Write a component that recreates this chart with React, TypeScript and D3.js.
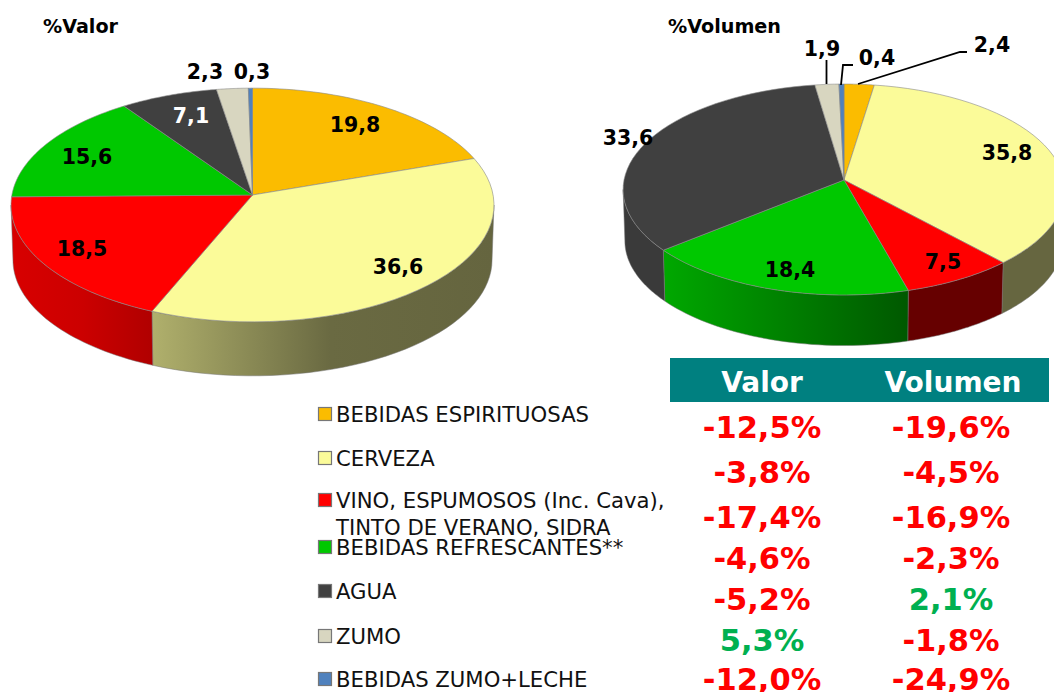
import React from "react";
import * as d3 from "d3";

const categories = ["BEBIDAS ESPIRITUOSAS","CERVEZA","VINO, ESPUMOSOS (Inc. Cava),","BEBIDAS REFRESCANTES**","AGUA","ZUMO","BEBIDAS ZUMO+LECHE"];
const valorShare = [19.8,36.6,18.5,15.6,7.1,2.3,0.3];
const volumenShare = [2.4,35.8,7.5,18.4,33.6,1.9,0.4];
const valorChange = ["-12,5%","-3,8%","-17,4%","-4,6%","-5,2%","5,3%","-12,0%"];
const volumenChange = ["-19,6%","-4,5%","-16,9%","-2,3%","2,1%","-1,8%","-24,9%"];
const fmt = (v:number)=>v.toFixed(1).replace(".",",");

const topColors = ["#fbbc00","#fbfb99","#ff0000","#00c800","#404040","#d8d6c0","#4f81bd"];
const FONT = "'DejaVu Sans', Verdana, sans-serif";

type Stop=[number,string];
type Cfg={id:string;cx:number;cy:number;R:number;ry:number;p:number;depth:number;shrink:number;
  values:number[];walls:(Stop[])[];labels:[number,number][];labelFill:string[]};

const flat=(c:string):Stop[]=>[[0,c],[1,c]];
const valorCfg:Cfg={id:"v",cx:252.5,cy:195,R:240.6,ry:116,p:0.0855,depth:55,shrink:0.992,values:valorShare,
  walls:[flat("#8a6a00"),[[0,"#b0b06c"],[0.52,"#6a6a42"],[1,"#65653f"]],[[0,"#d80000"],[0.5,"#cc0000"],[1,"#b00000"]],flat("#008000"),flat("#333"),flat("#888"),flat("#345")],
  labels:[[355,125],[398,267],[82,249],[87,157],[191,116],[205,72],[252,72]],
  labelFill:["#000","#000","#000","#000","#fff","#000","#000"]};
const volumenCfg:Cfg={id:"w",cx:844,cy:180,R:220,ry:104.6,p:0.09,depth:51.5,shrink:0.992,values:volumenShare,
  walls:[flat("#8a6a00"),flat("#666640"),flat("#660000"),[[0,"#00a800"],[1,"#005800"]],flat("#3a3a3a"),flat("#888"),flat("#345")],
  labels:[[992,45],[1007,153],[943,262],[790,270],[628,138],[822,49],[877,58]],
  labelFill:["#000","#000","#000","#000","#000","#000","#000"]};
const leaders:[number,number][][]=[[[826.5,60],[826.5,84]],[[853,65],[843,65],[841,85]],[[967,52],[960,52],[858,84]]];

const legendY=[414,458,500,547,591,636,679];
const rowY=[427,472,517,558,599,640,679];

function Pie3D({c}:{c:Cfg}){
  const arcs=d3.pie<number>().sort(null)(c.values);
  const proj=(t:number,bottom=false):[number,number]=>{
    const u=Math.sin(t),v=Math.cos(t),k=1/(1+c.p*v),s=bottom?c.shrink:1;
    return [c.cx+c.R*u*k*s, c.cy-c.ry*v*k*s+(bottom?c.depth:0)];
  };
  const line=d3.line();
  const sample=(a:number,b:number)=>d3.range(0,41).map(i=>a+(b-a)*i/40);
  // the wall is visible only between the two silhouette angles of the projected circle
  const tA=Math.acos(-c.p), tB=2*Math.PI-tA;
  const walls=arcs.map((a,i)=>{
    const s=Math.max(a.startAngle,tA), e=Math.min(a.endAngle,tB);
    if(e<=s) return null;
    const ts=sample(s,e);
    const pts=[...ts.map(t=>proj(t)),...ts.slice().reverse().map(t=>proj(t,true))];
    const [x0,x1]=d3.extent(pts,p=>p[0]) as [number,number];
    return {i,pts,x0,x1};
  }).filter(Boolean) as {i:number;pts:[number,number][];x0:number;x1:number}[];
  return <g>
    <defs>{walls.map(w=><linearGradient key={w.i} id={`${c.id}g${w.i}`} gradientUnits="userSpaceOnUse" x1={w.x0} x2={w.x1} y1="0" y2="0">
      {c.walls[w.i].map((s,j)=><stop key={j} offset={s[0]} stopColor={s[1]}/>)}</linearGradient>)}</defs>
    {walls.map(w=><path key={w.i} d={line(w.pts)+"Z"} fill={`url(#${c.id}g${w.i})`} stroke="#777" strokeWidth={0.5}/>)}
    {arcs.map((a,i)=>{
      const pts=[[c.cx,c.cy] as [number,number],...sample(a.startAngle,a.endAngle).map(t=>proj(t))];
      return <path key={i} d={line(pts)+"Z"} fill={topColors[i]} stroke="#888" strokeWidth={0.6}/>;
    })}
    {c.values.map((v,i)=><text key={i} x={c.labels[i][0]} y={c.labels[i][1]} dy="0.36em" textAnchor="middle"
      fontFamily={FONT} fontWeight="bold" fontSize={20.5} fill={c.labelFill[i]}>{fmt(v)}</text>)}
  </g>;
}

export default function App(){
  const line=d3.line();
  return <svg width={1054} height={692} viewBox="0 0 1054 692" style={{position:"absolute",left:0,top:0,background:"#fff"}}>
    <text x={43} y={33} fontFamily={FONT} fontWeight="bold" fontSize={19.5} textLength={75} lengthAdjust="spacingAndGlyphs">%Valor</text>
    <text x={668} y={33} fontFamily={FONT} fontWeight="bold" fontSize={19.5} textLength={113} lengthAdjust="spacingAndGlyphs">%Volumen</text>
    <Pie3D c={valorCfg}/>
    <Pie3D c={volumenCfg}/>
    {leaders.map((l,i)=><path key={i} d={line(l)!} fill="none" stroke="#000" strokeWidth={1.8}/>)}
    <rect x={670} y={358} width={379} height={44} fill="#008080"/>
    <text x={762} y={392} textAnchor="middle" fontFamily={FONT} fontWeight="bold" fontSize={28} fill="#fff">Valor</text>
    <text x={953} y={392} textAnchor="middle" fontFamily={FONT} fontWeight="bold" fontSize={28} fill="#fff">Volumen</text>
    {categories.map((n,i)=><g key={n}>
      <rect x={318.5} y={legendY[i]-6.5} width={13} height={13} fill={topColors[i]} stroke="#777" strokeWidth={1.2}/>
      <text x={336} y={legendY[i]} dy="0.36em" fontFamily={FONT} fontSize={21.2} fill="#111">{n}</text>
    </g>)}
    <text x={336} y={527} dy="0.36em" fontFamily={FONT} fontSize={21.2} fill="#111">TINTO DE VERANO, SIDRA</text>
    {valorChange.map((t,i)=><text key={i} x={762} y={rowY[i]} dy="0.36em" textAnchor="middle" fontFamily={FONT} fontWeight="bold" fontSize={30.5} fill={t.startsWith("-")?"#ff0000":"#00b050"}>{t}</text>)}
    {volumenChange.map((t,i)=><text key={i} x={951} y={rowY[i]} dy="0.36em" textAnchor="middle" fontFamily={FONT} fontWeight="bold" fontSize={30.5} fill={t.startsWith("-")?"#ff0000":"#00b050"}>{t}</text>)}
  </svg>;
}
